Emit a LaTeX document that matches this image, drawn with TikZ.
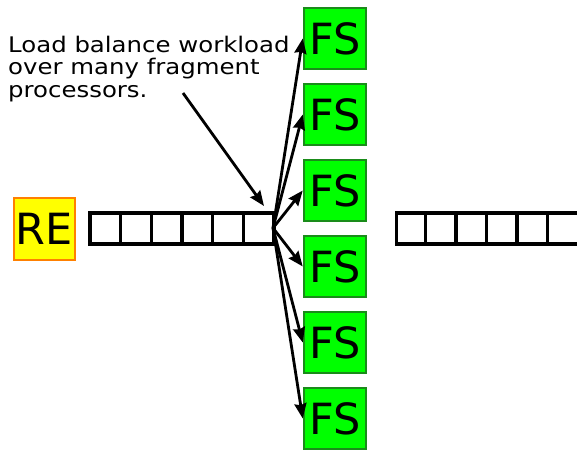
\documentclass[tikz,border=0pt]{standalone}
\usepackage{fontspec}
\setmainfont{DejaVu Sans}
\newfontfamily\notefont[FakeStretch=1.135]{DejaVu Sans}
\usetikzlibrary{arrows.meta}
\definecolor{fsfill}{HTML}{00FF00}
\definecolor{fsdraw}{HTML}{1A8C1A}
\definecolor{refill}{HTML}{FFFF00}
\definecolor{redraw}{HTML}{FF8000}
\begin{document}
\begin{tikzpicture}[x=1pt,y=-1pt,
  fsbox/.style={draw=fsdraw,fill=fsfill,line width=2.5pt,minimum width=62pt,minimum height=61pt,inner sep=0pt,font=\fontsize{43}{43}\selectfont},
  rebox/.style={draw=redraw,fill=refill,line width=2.5pt,minimum width=61pt,minimum height=62pt,inner sep=0pt,font=\fontsize{43}{43}\selectfont},
  queue/.style={draw=black,line width=3.2pt,minimum width=184pt,minimum height=31pt,inner sep=0pt},
  cellline/.style={draw=black,line width=3.2pt},
  arr/.style={draw=black,line width=2.8pt,-{Stealth[length=15pt,width=12pt,inset=1.5pt]}},
  note/.style={align=left,inner sep=0pt,anchor=base west,font=\notefont\fontsize{21.5}{22.2}\selectfont}
]
\useasboundingbox (0,0) rectangle (577,451);
\node[rebox] (re) at (44.5,229) {RE};
\node[queue] (q) at (182,228.5) {};
\foreach \i in {1,...,5} {\draw[cellline] (90+30.67*\i,213) -- (90+30.67*\i,244);}
% right queue (clipped)
\begin{scope}
\clip (0,0) rectangle (577,451);
\node[queue,minimum width=200pt,anchor=west] (q2) at (395,228.5) {};
\foreach \i in {1,...,5} {\draw[cellline] (395+30.5*\i,213) -- (395+30.5*\i,244);}
\end{scope}
\foreach \k in {1,...,6} {\node[fsbox] (fs\k) at (335,{38.5+76*(\k-1)}) {FS};}
\coordinate (src) at (273,228);
\foreach \k in {1,...,6} {\draw[arr] (src) -- (fs\k.west);}
\node[note] (txt) at (8,97) {Load balance workload\\over many fragment\\processors.};
\coordinate (ns) at (183,93);
\coordinate (ne) at (264,206);
\draw[arr] (ns) -- (ne);
\end{tikzpicture}
\end{document}
